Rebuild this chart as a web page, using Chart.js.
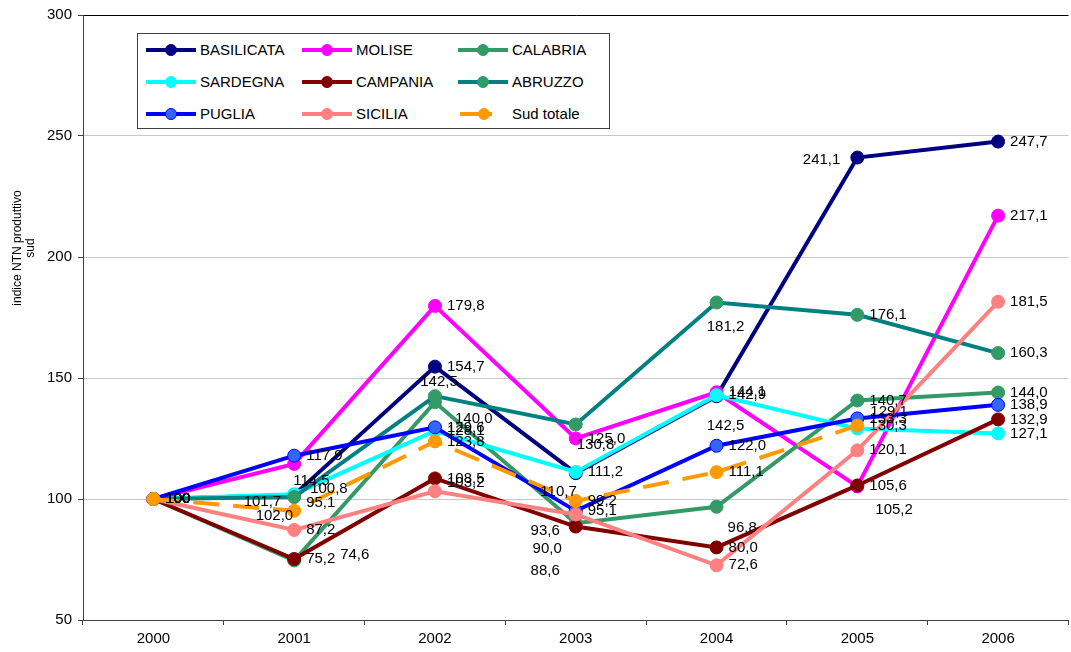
<!DOCTYPE html>
<html lang="it">
<head>
  <meta charset="UTF-8">
  <title>Indice NTN produttivo sud</title>
  <script src="https://cdn.jsdelivr.net/npm/chart.js"></script>
  <style>
    html, body { margin: 0; padding: 0; background: #fff; overflow: hidden; }
    #wrap { position: relative; width: 1076px; height: 652px; }
    #legend {
      position: absolute; left: 137px; top: 33px; width: 471px; height: 94px;
      border: 1px solid #404040; background: #fff;
      font-family: "Liberation Sans", Arial, sans-serif; font-size: 15px; color: #000;
    }
    .item { position: absolute; height: 20px; }
    .item .ln { position: absolute; top: 8px; height: 4px; }
    .item .mk { position: absolute; top: 4px; width: 12px; height: 12px; border-radius: 50%; box-sizing: border-box; }
    .item .tx { position: absolute; top: 1px; white-space: nowrap; }
  </style>
</head>
<body>
  <div id="wrap">
    <canvas id="chart"></canvas>
    <div id="legend"></div>
  </div>

  <script>
    // anni e valori (indice, 2000 = 100)
    const years = ['2000', '2001', '2002', '2003', '2004', '2005', '2006'];
    const basilicata = [100, 101.7, 154.7, 110.7, 142.5, 241.1, 247.7];
    const molise     = [100, 114.5, 179.8, 125.0, 144.1, 105.2, 217.1];
    const calabria   = [100, 74.6, 140.0, 90.0, 96.8, 140.7, 144.0];
    const sardegna   = [100, 102.0, 128.1, 111.2, 142.9, 129.1, 127.1];
    const campania   = [100, 75.2, 108.5, 88.6, 80.0, 105.6, 132.9];
    const abruzzo    = [100, 100.8, 142.5, 130.8, 181.2, 176.1, 160.3];
    const puglia     = [100, 117.9, 129.6, 95.1, 122.0, 133.3, 138.9];
    const sicilia    = [100, 87.2, 103.2, 93.6, 72.6, 120.1, 181.5];
    const sudTotale  = [100, 95.1, 123.8, 99.2, 111.1, 130.3, null];
    const yMin = 50, yMax = 300, yStep = 50;

    const series = [
      { name: 'BASILICATA', data: basilicata, line: '#000080', fill: '#000080', edge: '#000080' },
      { name: 'MOLISE',     data: molise,     line: '#FF00FF', fill: '#FF00FF', edge: '#FF00FF' },
      { name: 'CALABRIA',   data: calabria,   line: '#339966', fill: '#339966', edge: '#339966' },
      { name: 'SARDEGNA',   data: sardegna,   line: '#00FFFF', fill: '#00FFFF', edge: '#00FFFF' },
      { name: 'CAMPANIA',   data: campania,   line: '#800000', fill: '#800000', edge: '#800000' },
      { name: 'ABRUZZO',    data: abruzzo,    line: '#008080', fill: '#339966', edge: '#339966' },
      { name: 'PUGLIA',     data: puglia,     line: '#0000FF', fill: '#3366FF', edge: '#0000FF' },
      { name: 'SICILIA',    data: sicilia,    line: '#FF8080', fill: '#FF8080', edge: '#FF8080' },
      { name: 'Sud totale', data: sudTotale,  line: '#FF9900', fill: '#FF9900', edge: '#FF9900', dash: [26, 14] }
    ];

    // spostamenti delle etichette (come nel grafico originale)
    const labelPos = {
      'BASILICATA|1': [-13, 7, 'right'], 'BASILICATA|3': [1, 19, 'right'],
      'BASILICATA|4': [9, 30, 'center'], 'BASILICATA|5': [-17, 2, 'right'],
      'MOLISE|1': [-1, 17, 'left'], 'MOLISE|5': [18, 23, 'left'],
      'CALABRIA|1': [46, -6, 'left'], 'CALABRIA|2': [20, 17, 'left'],
      'CALABRIA|3': [-14, 26, 'right'], 'CALABRIA|4': [11, 21, 'left'],
      'SARDEGNA|1': [-1, 22, 'right'], 'SARDEGNA|5': [13, -17, 'left'],
      'CAMPANIA|3': [-16, 44, 'right'],
      'ABRUZZO|1': [16, -8, 'left'], 'ABRUZZO|2': [4, -14, 'center'],
      'ABRUZZO|3': [1, 20, 'left'], 'ABRUZZO|4': [9, 24, 'center'],
      'SICILIA|2': [12, -8, 'left'], 'SICILIA|3': [-16, 16, 'right'],
      'Sud totale|1': [12, -8, 'left']
    };

    const fmt = (v, j) => j === 0 ? String(v) : v.toFixed(1).replace('.', ',');
    const FONT = '"Liberation Sans", Arial, sans-serif';

    const valueLabels = {
      id: 'valueLabels',
      afterDatasetsDraw(chart) {
        const ctx = chart.ctx;
        ctx.save();
        ctx.font = '15px ' + FONT;
        ctx.fillStyle = '#000';
        ctx.textBaseline = 'middle';
        chart.data.datasets.forEach((ds, i) => {
          const meta = chart.getDatasetMeta(i);
          ds.data.forEach((v, j) => {
            if (v == null) return;
            const pt = meta.data[j];
            const p = labelPos[ds.label + '|' + j] || [12, 0, 'left'];
            ctx.textAlign = p[2];
            ctx.fillText(fmt(v, j), pt.x + p[0], pt.y + p[1]);
          });
        });
        ctx.restore();
      }
    };

    const axisTitle = {
      id: 'axisTitle',
      afterDraw(chart) {
        const ctx = chart.ctx;
        ctx.save();
        ctx.font = '12px ' + FONT;
        ctx.fillStyle = '#000';
        ctx.textAlign = 'center';
        ctx.textBaseline = 'middle';
        ctx.translate(18, 248);
        ctx.rotate(-Math.PI / 2);
        ctx.fillText('indice NTN produttivo', 0, 0);
        ctx.fillText('sud', 0, 13);
        ctx.restore();
      }
    };

    new Chart(document.getElementById('chart'), {
      type: 'line',
      data: {
        labels: years,
        datasets: series.map((s, i) => ({
          label: s.name,
          data: s.data,
          borderColor: s.line,
          borderWidth: 4,
          borderDash: s.dash || [],
          pointBackgroundColor: s.fill,
          pointBorderColor: s.edge,
          pointBorderWidth: 1,
          pointRadius: 6.5,
          tension: 0,
          order: series.length - i
        }))
      },
      options: {
        responsive: true,
        maintainAspectRatio: false,
        animation: false,
        layout: { padding: { top: 14, left: 0, right: 0, bottom: 0 } },
        plugins: { legend: { display: false }, tooltip: { enabled: false } },
        scales: {
          x: {
            offset: true,
            grid: { offset: true, drawOnChartArea: false, tickLength: 5, tickColor: '#404040' },
            border: { color: '#404040', width: 1 },
            ticks: { color: '#000', font: { family: FONT, size: 15 }, padding: 5, maxRotation: 0 },
            afterFit(s) { s.height = 32; }
          },
          y: {
            min: yMin, max: yMax,
            grid: {
              color: c => c.tick && c.tick.value === yMax ? '#000' : '#c8c8c8',
              tickLength: 5, tickColor: '#404040'
            },
            border: { color: '#404040', width: 1 },
            ticks: { stepSize: yStep, color: '#000', font: { family: FONT, size: 15 }, padding: 6 },
            afterFit(s) { s.width = 83; }
          }
        }
      },
      plugins: [valueLabels, axisTitle]
    });

    // legenda su tre colonne, come nel riquadro originale
    const legend = document.getElementById('legend');
    const cols = [8, 164, 320];
    const rows = [6, 38, 70];
    series.forEach((s, i) => {
      const col = i % 3, row = Math.floor(i / 3);
      const item = document.createElement('div');
      item.className = 'item';
      item.style.left = cols[col] + 'px';
      item.style.top = rows[row] + 'px';
      const isDash = !!s.dash;
      const lnLeft = isDash ? 2 : 0, lnW = isDash ? 32 : 50, mkX = isDash ? 20 : 19;
      item.innerHTML =
        '<div class="ln" style="left:' + lnLeft + 'px;width:' + lnW + 'px;background:' + s.line + '"></div>' +
        '<div class="mk" style="left:' + mkX + 'px;background:' + s.fill + ';border:1px solid ' + s.edge + '"></div>' +
        '<div class="tx" style="left:' + (isDash ? 54 : 54) + 'px">' + s.name + '</div>';
      legend.appendChild(item);
    });
  </script>
</body>
</html>
